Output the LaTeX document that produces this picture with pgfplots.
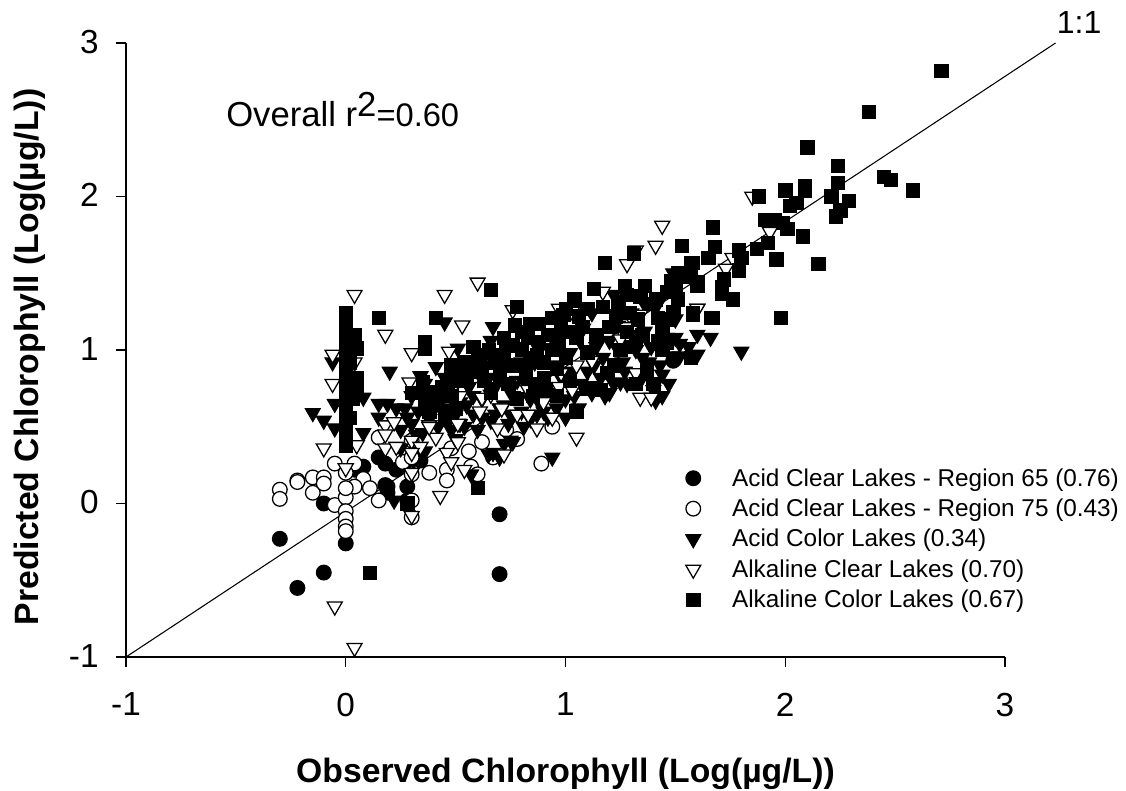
\documentclass[border=0pt]{standalone}
\usepackage{fontspec}
\setmainfont{Liberation Sans}
\usepackage{pgfplots}
\pgfplotsset{compat=1.18}

\pgfplotsset{
  base/.style={only marks, mark options={solid, line width=0.95pt, draw=black}},
  acidclear65/.style={base, mark=*, mark size=5.5pt, mark options={solid, line width=0.95pt, draw=black, fill=black}},
  acidclear75/.style={base, mark=*, mark size=5.5pt, mark options={solid, line width=0.95pt, draw=black, fill=white}},
  acidcolor/.style={base, mark=triangle*, mark size=6.5pt, mark options={solid, line width=0.8pt, draw=black, fill=black, rotate=180}},
  alkclear/.style={base, mark=triangle*, mark size=6.5pt, mark options={solid, line width=0.95pt, draw=black, fill=white, rotate=180}},
  alkcolor/.style={base, mark=square*, mark size=5.0pt, mark options={solid, line width=0.5pt, draw=black, fill=black}},
}

\begin{document}
\begin{tikzpicture}
\path[use as bounding box] (-94.5pt,-100.5pt) rectangle (750pt,492.75pt);
\begin{axis}[
  at={(0pt,0pt)}, anchor=south west,
  scale only axis,
  width=659.25pt, height=460.5pt,
  xmin=-1, xmax=3, ymin=-1, ymax=3,
  axis lines=left,
  axis line style={-, line width=1.1pt},
  clip=false,
  xtick={-1,0,1,2,3}, ytick={-1,0,1,2,3},
  xticklabels={-1,0,1,2,3}, yticklabels={-1,0,1,2,3},
  tick align=outside,
  major tick length=7.5pt,
  tick style={black, line width=1.1pt},
  tick label style={font=\fontsize{25}{29}\selectfont},
  xticklabel style={yshift=-16pt},
  yticklabel style={xshift=-9.5pt, yshift=1pt},
  xlabel={\textbf{Observed Chlorophyll (Log(µg/L))}},
  ylabel={\textbf{Predicted Chlorophyll (Log(µg/L))}},
  label style={font=\fontsize{25.3}{29}\selectfont},
  xlabel style={at={(axis cs:1.0,-1.82)}, anchor=base},
  ylabel style={at={(axis cs:-1.40,0.955)}, anchor=base},
  legend cell align=left,
  legend style={
    at={(axis cs:3.55,0.265)}, anchor=north east,
    draw=none, fill=none,
    font=\fontsize{18.25}{20}\selectfont,
    row sep=4.1pt,
    /tikz/column 1/.style={column sep=21.5pt},
  },
]
% 1:1 line
\addplot[forget plot, black, line width=0.8pt] coordinates {(-1,-1) (3.23,3)};

% Acid Clear Lakes - Region 65
\addplot[acidclear65] coordinates {
(-0.30,-0.23) (-0.22,-0.55) (-0.10,-0.45) (0.70,-0.07) (0.70,-0.46) (0,-0.26) (-0.10,0)
(0.08,0.24) (0.18,0.26) (0.18,0.12) (0.28,0.11) (0.28,0.25) (0.19,0.11) (0.19,0.07)
(0.30,0.30) (1.49,0.93) (0.28,0.02) (0.04,0.22) (0.15,0.30) (0.23,0.22) (0.34,0.28)
};
% Acid Clear Lakes - Region 75
\addplot[acidclear75] coordinates {
(-0.30,0.09) (-0.30,0.03) (-0.22,0.15) (-0.22,0.14) (-0.15,0.17) (-0.15,0.07) (-0.10,0.17)
(-0.10,0.13) (-0.05,0.26) (-0.05,-0.01) (0.04,0.26) (0.08,0.16) (0.04,0.11) (0.11,0.10)
(0.15,0.02) (0,0.04) (0,0.10) (0,-0.05) (0,-0.10) (0,-0.15) (0,-0.18) (0,0.20)
(0.30,-0.09) (0.30,0.02) (0.26,0.27) (0.30,0.30) (0.30,0.19) (0.38,0.20) (0.46,0.22)
(0.46,0.15) (0.56,0.34) (0.57,0.24) (0.60,0.19) (0.89,0.26) (0.67,0.30) (0.94,0.50)
(0.73,0.48) (0.15,0.43) (0.30,0.41) (0.48,0.36) (0.62,0.40) (0.78,0.42)
};
% Acid Color Lakes
\addplot[acidcolor] coordinates {
(-0.15,0.59) (-0.10,0.54) (-0.05,0.65) (-0.05,0.49) (0.08,0.69) (0.08,0.46) (0.15,0.65)
(0.19,0.65) (0.23,0.62) (0.15,0.56) (0.28,0.56) (0.20,0.86) (-0.06,0.92) (0.45,1.18)
(0.51,1.01) (0.41,0.89) (0.45,0.82) (0.51,0.82) (0.67,1.15) (0.69,0.98) (0.51,0.80)
(1.25,0.79) (1.41,0.67) (0.94,0.30) (1.49,1.50) (1.80,0.99) (0.75,0.41) (0.67,0.33)
(0.70,0.30) (0.65,0.32) (0.76,0.40) (0.72,0.39) (0.81,0.50) (0.22,0.02) (0.57,0.19)
(1.60,1.10) (1.60,0.97) (1.66,1.08) (1.56,1.02) (1.52,0.96)
(0.25,0.48) (0.27,0.62) (0.30,0.52) (0.33,0.60) (0.35,0.46) (0.38,0.55) (0.40,0.66)
(0.42,0.50) (0.44,0.60) (0.46,0.72) (0.48,0.48) (0.50,0.58) (0.52,0.66) (0.54,0.50)
(0.56,0.76) (0.58,0.58) (0.60,0.86) (0.60,0.48) (0.62,0.68) (0.64,0.98) (0.66,0.54)
(0.68,0.76) (0.70,0.62) (0.72,0.88) (0.74,0.52) (0.76,0.70) (0.78,1.02) (0.80,0.60)
(0.82,0.78) (0.84,0.55) (0.86,0.92) (0.88,0.66) (0.90,0.74) (0.92,0.56) (0.94,1.08)
(0.96,0.62) (0.98,0.82) (1.00,0.56) (1.02,0.98) (1.04,0.70) (1.06,0.62) (1.08,1.14)
(1.10,0.86) (1.12,0.72) (1.14,1.02) (1.16,0.82) (1.18,0.70) (1.20,1.06) (1.22,0.78)
(1.24,1.16) (1.26,0.92) (1.28,0.78) (1.30,1.24) (1.32,1.00) (1.34,0.80) (1.36,1.12)
(1.38,0.92) (1.40,0.74) (1.42,1.30) (1.44,0.84) (1.46,1.08) (1.48,0.96) (1.50,1.20)
(1.44,0.70) (1.52,1.04) (1.36,1.30) (1.22,1.36) (1.12,1.24) (0.98,1.10) (0.88,1.00)
(0.66,1.06) (0.38,0.74) (0.34,0.83) (0.30,0.70) (0.25,0.36) (0.36,0.34) (0.50,0.42)
(0.32,0.45) (0.36,0.78) (0.43,0.72) (0.47,0.62) (0.52,0.52) (0.55,0.64) (0.58,0.70)
(0.62,0.56) (0.65,0.82) (0.68,0.58) (0.72,0.64) (0.75,0.58) (0.78,0.80) (0.80,0.92)
(0.84,0.68) (0.87,0.58) (0.90,0.60) (0.93,0.72) (0.97,0.90) (1.00,0.68) (1.03,0.86)
(1.07,0.78) (1.09,1.00) (1.13,0.90) (1.17,0.95) (1.20,0.72) (1.24,1.00) (1.27,0.86)
(1.31,1.10) (1.35,0.95) (1.39,1.02) (1.43,0.90) (1.47,0.78) (1.50,1.08)
};
% Alkaline Clear Lakes
\addplot[alkclear] coordinates {
(1.85,2.00) (1.93,1.77) (1.76,1.60) (1.73,1.53) (1.60,1.27) (0.04,-0.94) (-0.05,-0.67)
(-0.10,0.36) (0,0.23) (0.43,0.05) (0.30,-0.08) (0.30,0.20) (0.54,0.22) (0.72,0.32)
(0.87,0.49) (0.94,0.56) (0.46,0.33) (0.48,0.27) (0.18,0.51) (0.22,0.53) (0.18,0.45)
(0.18,0.36) (0.23,0.37) (0.30,0.41) (0.34,0.37) (0.38,0.51) (0.41,0.43) (0.51,0.52)
(0.51,0.40) (0.61,0.60) (0.69,0.49) (0.78,0.58) (0.83,0.58) (0.05,0.38) (0.30,0.33)
(0.04,1.36) (0.18,1.10) (-0.06,0.97) (0.30,0.98) (0.04,0.92) (-0.06,0.78) (0.29,0.79)
(0.45,1.36) (0.53,1.16) (0.47,0.99) (0.52,0.70) (0.60,1.44) (0.76,1.26) (0.62,0.69)
(0.66,0.71) (1.28,1.56) (1.44,1.81) (1.41,1.68) (1.32,1.65) (1.17,1.38) (0.97,1.27)
(1.03,1.25) (1.29,1.23) (1.34,1.23) (1.28,1.15) (1.25,1.07) (1.05,0.90) (1.12,0.93)
(0.98,0.85) (0.97,0.76) (1.03,0.74) (0.75,0.78) (0.83,0.74) (1.05,0.43) (1.34,0.69)
(1.39,0.69) (1.32,0.85) (1.60,1.27) (0.71,0.62) (0.90,0.66) (0.38,0.50)
};
% Alkaline Color Lakes
\addplot[alkcolor] coordinates {
(2.71,2.82) (2.38,2.55) (2.10,2.32) (2.24,2.20) (2.24,2.09) (2.45,2.13) (2.48,2.11)
(2.58,2.04) (2.09,2.07) (2.09,2.04) (2.00,2.04) (1.88,2.00) (2.05,1.96) (2.02,1.94)
(2.21,2.00) (2.29,1.97) (2.25,1.91) (2.23,1.87) (1.91,1.85) (1.95,1.85) (1.99,1.83)
(2.01,1.79) (2.08,1.74) (1.92,1.70) (1.87,1.66) (1.96,1.59) (2.15,1.56) (1.98,1.21)
(1.67,1.80) (1.68,1.67) (1.65,1.60) (1.79,1.65) (1.80,1.60) (1.79,1.52) (1.58,1.57)
(1.72,1.46) (1.71,1.41) (1.71,1.37) (1.76,1.33) (1.67,1.21) (1.60,1.42) (1.57,1.48)
(1.58,1.24) (1.18,1.57) (1.31,1.63) (1.53,1.68) (1.57,1.57) (1.13,1.40) (1.27,1.42)
(1.36,1.42) (0.66,1.39) (0.78,1.28) (1.04,1.33) (1.10,1.27) (1.24,1.31) (1.28,1.36)
(1.34,1.35) (1.41,1.33) (1.42,1.21) (1.51,1.33) (1.49,1.25) (1.54,1.48) (1.51,1.50)
(1.60,1.44) (1.58,1.23) (1.66,1.21) (1.57,0.95)
(0,1.24) (0,1.20) (0,1.15) (0,1.10) (0,1.05) (0,1.00) (0,0.95) (0,0.90) (0,0.85)
(0,0.80) (0,0.75) (0,0.70) (0,0.65) (0,0.60) (0,0.55) (0,0.50) (0,0.42) (0,0.38)
(0.04,1.10) (0.05,1.01) (0.05,0.82) (0.05,0.74) (0.15,1.21) (0.41,1.21) (0.36,1.05)
(0.36,1.01) (0.35,0.79) (0.58,1.02) (0.76,1.03) (0.60,0.10) (0.11,-0.45) (0.28,0)
(0.30,0.72) (0.34,0.72) (0.36,0.66) (0.38,0.60) (0.40,0.72) (0.42,0.65) (0.45,0.55)
(0.48,0.70) (0.50,0.62) (0.48,0.90) (0.52,0.85) (0.54,0.92) (0.60,0.94) (0.62,0.88)
(0.63,0.80) (0.66,0.72) (0.68,0.92) (0.70,0.84) (0.72,0.95) (0.74,0.78) (0.76,0.90)
(0.78,0.68) (0.80,1.12) (0.80,1.00) (0.82,0.86) (0.84,1.17) (0.84,0.95) (0.86,0.78)
(0.88,1.17) (0.88,1.05) (0.90,0.92) (0.90,0.82) (0.92,1.10) (0.94,1.21) (0.94,1.00)
(0.96,0.88) (0.96,0.70) (0.98,1.15) (0.99,1.23) (1.00,0.95) (1.02,0.80) (1.02,1.12)
(1.05,1.08) (1.08,1.15) (1.10,0.98) (1.12,0.75) (1.16,0.74) (1.19,0.85) (1.22,0.90)
(1.25,1.00) (1.20,1.15) (1.28,1.12) (1.30,1.02) (1.32,1.07) (1.35,1.10) (1.32,0.78)
(1.40,0.78) (1.37,0.86) (1.10,0.75) (1.44,1.15) (1.47,1.20) (1.46,1.05) (1.44,1.00)
(1.46,1.38) (1.48,1.45) (0.72,1.08) (0.55,0.80) (0.85,0.70) (1.05,0.60)
(0.37,0.62) (0.44,0.76) (0.49,0.80) (0.57,0.86) (0.65,1.00) (0.73,1.03) (0.77,1.16)
(0.83,1.08) (0.87,0.97) (0.91,0.74) (0.97,1.03) (1.00,1.27) (1.06,1.22) (1.14,1.10)
(1.17,1.28) (1.23,1.22) (1.29,1.24) (1.33,1.20) (1.38,1.30) (1.42,1.06) (1.50,1.42)
(0.02,1.08) (0.02,0.92) (0.03,0.68) (0.02,0.56)
};
\legend{Acid Clear Lakes - Region 65 (0.76), Acid Clear Lakes - Region 75 (0.43),
  Acid Color Lakes (0.34), Alkaline Clear Lakes (0.70), Alkaline Color Lakes (0.67)}

\node[anchor=base west, font=\fontsize{26}{30}\selectfont, inner sep=0pt] at (axis cs:-0.545,2.455)
  {Overall r\raisebox{7.5pt}{2}{\fontsize{24.5}{28}\selectfont =0.60}};
\node[anchor=base west, font=\fontsize{24}{28}\selectfont, inner sep=0pt] at (axis cs:3.235,3.06) {1:1};
\end{axis}
\end{tikzpicture}
\end{document}
